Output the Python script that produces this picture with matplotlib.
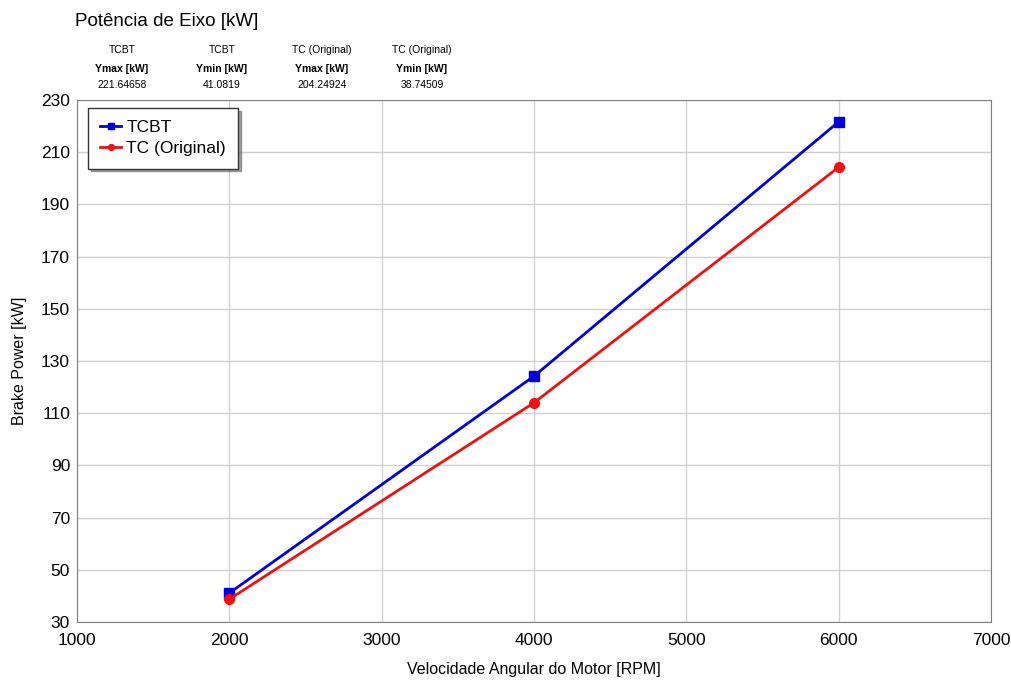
import numpy as np
import matplotlib.pyplot as plt

# Data
rpm = [2000, 4000, 6000]
tcbt_power = [41.0819, 124.2, 221.64658]
tc_power = [38.74509, 114.0, 204.24924]

header_series = ['TCBT', 'TCBT', 'TC (Original)', 'TC (Original)']
header_labels = ['Ymax [kW]', 'Ymin [kW]', 'Ymax [kW]', 'Ymin [kW]']
header_values = ['221.64658', '41.0819', '204.24924', '38.74509']

plt.rcParams['font.family'] = ['Liberation Sans', 'DejaVu Sans']

fig = plt.figure(figsize=(10.11, 6.82), dpi=100)
ax = fig.add_axes([77 / 1011, 1 - 622 / 682, (991 - 77) / 1011, (622 - 100) / 682])

ax.plot(rpm, tcbt_power, color='#0000dd', lw=2, marker='s', ms=7, label='TCBT')
ax.plot(rpm, tc_power, color='#ee1111', lw=2, marker='o', ms=7, label='TC (Original)')

ax.set_xlim(1000, 7000)
ax.set_ylim(30, 230)
ax.set_xticks(np.arange(1000, 7001, 1000))
ax.set_yticks(np.arange(30, 231, 20))
ax.tick_params(labelsize=12.5, length=0)
ax.tick_params(axis='x', pad=8)
ax.tick_params(axis='y', pad=5)
ax.grid(True, color='#d0d0d0', lw=1)
ax.set_axisbelow(True)
for s in ax.spines.values():
    s.set_color('#808080')

ax.set_xlabel('Velocidade Angular do Motor [RPM]', fontsize=11.5, labelpad=10)
ax.set_ylabel('Brake Power [kW]', fontsize=11.5, labelpad=10)

leg = ax.legend(loc='upper left', bbox_to_anchor=(0.012, 0.985), fontsize=12.5,
                frameon=True, fancybox=False, shadow=True, handlelength=1.2,
                handletextpad=0.3, borderpad=0.7, labelspacing=0.35,
                markerscale=0.6, borderaxespad=0)
leg.get_frame().set_edgecolor('#333333')
leg.get_frame().set_linewidth(1)
for line in leg.get_lines():
    line.set_linewidth(2)

fig.text(75 / 1011, 1 - 22 / 682, 'Potência de Eixo [kW]', fontsize=13.5, va='center', ha='left')
xs = [122, 222, 322, 422]
for x, s, l, v in zip(xs, header_series, header_labels, header_values):
    fig.text(x / 1011, 1 - 50 / 682, s, fontsize=7.5, ha='center', va='center')
    fig.text(x / 1011, 1 - 69 / 682, l, fontsize=7.5, ha='center', va='center', weight='bold')
    fig.text(x / 1011, 1 - 85 / 682, v, fontsize=7.5, ha='center', va='center')

fig.savefig('out.png', dpi=100)
